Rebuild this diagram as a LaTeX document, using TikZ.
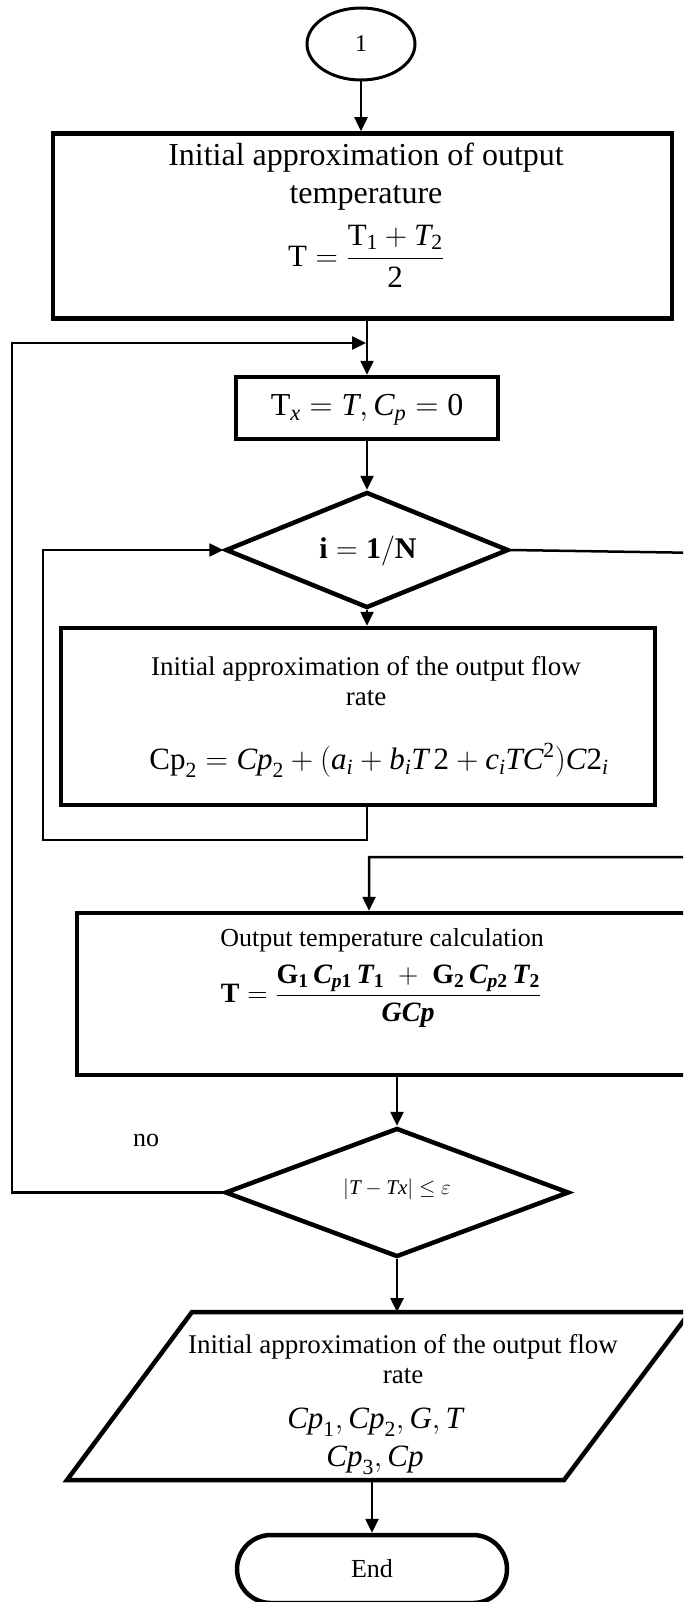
\documentclass[tikz,border=0pt]{standalone}
\usepackage{fix-cm}
\usepackage{amsmath}
\usepackage{fontspec}
\setmainfont{Liberation Serif}
\usetikzlibrary{arrows.meta,shapes.geometric}
\newcommand{\bfi}[1]{\text{\bfseries\itshape #1}}
\newcommand{\mri}[1]{\mathrm{#1}}
\newcommand{\mii}[1]{\mathit{#1}}
\tikzset{
  shapebox/.style={draw, line width=4.5pt, inner sep=0pt},
  conn/.style={draw, line width=2.5pt},
  arr/.style={conn, -{Triangle[length=14pt,width=13pt]}},
  fs/.style={font={\fontsize{#1}{#1}\selectfont}},
  txt/.style={align=center, inner sep=0pt},
}
\begin{document}
\begin{tikzpicture}[x=1pt,y=-1pt]
\useasboundingbox (0,0) rectangle (683,1602);
\clip (0,0) rectangle (683,1602);

% shapes
\node[draw, ellipse, line width=3pt, minimum width=108pt, minimum height=72pt, inner sep=0pt, fs=24] (circ) at (361,44) {1};
\node[shapebox, rectangle, minimum width=619pt, minimum height=185pt] (box1) at (362.5,226) {};
\node[shapebox, rectangle, minimum width=262pt, minimum height=62pt] (box2) at (367,408) {};
\node[shapebox, diamond, minimum width=283pt, minimum height=116pt] (dia1) at (367,550) {};
\node[shapebox, rectangle, minimum width=594pt, minimum height=177pt] (box3) at (358,716.5) {};
\node[shapebox, rectangle, minimum width=640pt, minimum height=162pt] (box4) at (397,994) {};
\node[shapebox, diamond, minimum width=344pt, minimum height=129pt] (dia2) at (397,1192.5) {};
\draw[line width=4.5pt, line join=miter] (67,1480) -- (192,1312) -- (690,1312) -- (564,1480) -- cycle;
\coordinate (paraTop) at (397,1312);
\coordinate (paraBot) at (372,1480);
\node[shapebox, rectangle, rounded corners=34pt, minimum width=270pt, minimum height=68pt, fs=26] (term) at (372,1569) {End};

% texts
\node[txt, font={\fontsize{32}{38}\selectfont}] (t1) at (366,177) {Initial approximation of output\\temperature};
\node[txt, fs=31] (f1) at (366,256) {$\mri{T}=\dfrac{\mri{T}_{\mri{1}}+\mii{T}_{\mri{2}}}{\mri{2}}$};
\node[txt, fs=32] (f2) at (367,410) {$\mri{T}_{\mii{x}}=\mii{T},\mii{C}_{\mii{p}}=\mri{0}$};
\node[txt, fs=30] (d1t) at (368,551) {$\mathbf{i}=\mathbf{1/N}$};
\node[txt, font={\fontsize{27}{30}\selectfont}] (t3) at (366,681) {Initial approximation of the output flow\\rate};
\node[txt, fs=31] (f3) at (379,760) {$\mri{Cp}_{\mri{2}}=\mii{Cp}_{\mri{2}}+(\mii{a}_{\mii{i}}+\mii{b}_{\mii{i}}\mii{T}\,\mri{2}+\mii{c}_{\mii{i}}\mii{TC}^{\mri{2}})\mii{C}\mri{2}_{\mii{i}}$};
\node[txt, fs=26] (t4) at (382,940) {Output temperature calculation};
\node[txt, fs=28] (f4) at (381,996) {$\mathbf{T}=\dfrac{\mathbf{G}_{\mathbf{1}}\,\bfi{C}_{\bfi{p}\mathbf{1}}\,\bfi{T}_{\mathbf{1}}\;+\;\mathbf{G}_{\mathbf{2}}\,\bfi{C}_{\bfi{p}\mathbf{2}}\,\bfi{T}_{\mathbf{2}}}{\bfi{GCp}}$};
\node[txt, fs=21] (d2t) at (397,1189) {$|\mii{T}-\mii{Tx}|\le\varepsilon$};
\node[txt, font={\fontsize{27}{30}\selectfont}] (t5) at (403,1359) {Initial approximation of the output flow\\rate};
\node[txt, fs=31] (f5) at (375,1422) {$\mii{Cp}_{\mri{1}},\mii{Cp}_{\mri{2}},\mii{G},\mii{T}$};
\node[txt, fs=31] (f6) at (375,1460) {$\mii{Cp}_{\mri{3}},\mii{Cp}$};
\node[txt, fs=26] (no) at (146,1140) {no};

% connectors
\draw[arr] (circ.south) -- (circ.south |- box1.north);
\draw[arr] (box2.north |- box1.south) -- (box2.north);
\coordinate (L1) at (12,1192.5);
\coordinate (L2) at (12,343);
\coordinate (J1) at (366,343);
\draw[arr] (dia2.west) -- (L1) -- (L2) -- (J1);
\draw[arr] (box2.south) -- (dia1.north);
\draw[arr] (dia1.south) -- (dia1.south |- box3.north);
\coordinate (I1) at (367,840);
\coordinate (I2) at (43,840);
\coordinate (I3) at (43,550);
\draw[arr] (dia1.south |- box3.south) -- (I1) -- (I2) -- (I3) -- (dia1.west);
\coordinate (R1) at (705,553);
\coordinate (R2) at (705,857);
\coordinate (R3) at (369,857);
\draw[arr] (dia1.east) -- (R1) -- (R2) -- (R3) -- (R3 |- box4.north);
\draw[arr] (box4.south) -- (dia2.north);
\draw[arr] (dia2.south) -- (paraTop);
\draw[arr] (paraBot) -- (term.north);
\end{tikzpicture}
\end{document}
